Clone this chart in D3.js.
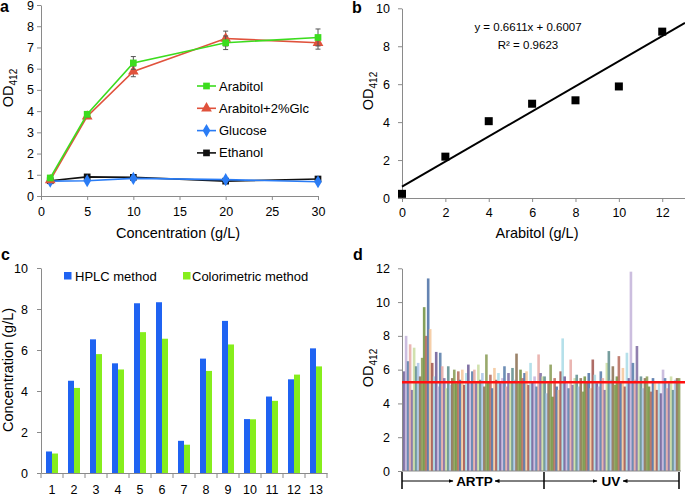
<!DOCTYPE html>
<html><head><meta charset="utf-8">
<script src="https://cdn.jsdelivr.net/npm/d3@7"></script>
<style>
html,body{margin:0;padding:0;background:#fff;}
svg text{font-family:"Liberation Sans",Arial,sans-serif;fill:#000;}
</style></head>
<body><svg id="c" width="685" height="497"></svg>
<script>
// ---------- Panel a data ----------
const aConc = [1, 5, 10, 20, 30];
const aArabitol = [0.85, 3.85, 6.27, 7.22, 7.47];
const aArabitolErr = [0.05, 0.12, 0.3, 0.32, 0.4];
const aArabitolGlc = [0.75, 3.75, 5.87, 7.42, 7.22];
const aArabitolGlcErr = [0.05, 0.1, 0.25, 0.35, 0.3];
const aGlucose = [0.7, 0.72, 0.83, 0.77, 0.67];
const aEthanol = [0.72, 0.9, 0.88, 0.7, 0.8];
const aLegend = ["Arabitol", "Arabitol+2%Glc", "Glucose", "Ethanol"];
const aXTicks = [0, 5, 10, 15, 20, 25, 30];
const aYTicks = [0, 1, 2, 3, 4, 5, 6, 7, 8, 9];

// ---------- Panel b data ----------
const bArabitol = [0, 2, 4, 6, 8, 10, 12];
const bOD = [0.22, 2.18, 4.05, 4.97, 5.15, 5.88, 8.77];
const bSlope = 0.6611, bIntercept = 0.6007;
const bEquation = "y = 0.6611x + 0.6007";
const bR2 = "R² = 0.9623";
const bXTicks = [0, 2, 4, 6, 8, 10, 12];
const bYTicks = [0, 2, 4, 6, 8, 10];

// ---------- Panel c data ----------
const cSamples = ["1","2","3","4","5","6","7","8","9","10","11","12","13"];
const cHPLC = [1.05, 4.5, 6.52, 5.35, 8.28, 8.33, 1.57, 5.58, 7.42, 2.63, 3.73, 4.57, 6.08];
const cColor = [0.95, 4.15, 5.8, 5.05, 6.87, 6.55, 1.38, 4.98, 6.27, 2.62, 3.52, 4.8, 5.2];
const cSeries = ["HPLC method", "Colorimetric method"];
const cYTicks = [0, 2, 4, 6, 8, 10];

// ---------- Panel d data ----------
const dARTP = [5.9,8.0,6.5,7.5,4.8,7.3,6.2,6.4,5.6,6.7,9.7,8.0,11.4,8.4,6.4,5.6,7.05,5.0,7.0,6.2,
  5.5,4.9,6.2,5.1,5.5,6.0,5.2,5.9,5.4,6.0,5.1,5.8,6.3,5.3,5.9,6.0,5.2,6.3,5.4,5.8,
  5.0,6.9,5.3,5.7,4.9,6.1,5.4,5.8,5.2,5.5,6.2,5.0,5.8,5.3,6.1,5.4,6.95,5.2,6.0,5.5,
  5.8,5.9,5.1,6.4,5.3,5.6,5.0,6.9,5.8,5.6];
const dUV = [5.6,4.6,5.2,6.3,4.4,5.5,5.0,4.8,5.9,7.85,5.6,5.2,4.9,6.6,5.1,5.5,5.7,5.0,5.5,4.7,
  5.6,5.3,5.8,4.9,6.6,5.7,5.2,5.0,5.9,5.5,4.8,6.4,7.1,5.4,6.2,5.1,5.6,6.8,5.3,6.1,
  5.0,7.0,5.5,11.8,6.4,5.4,7.4,5.2,5.6,4.9,5.5,5.6,5.0,4.7,5.5,5.2,4.8,5.3,4.6,6.0,
  5.5,4.9,5.2,5.6,4.8,5.4,5.5,5.5];
const dThreshold = 5.25;
const dGroups = ["ARTP", "UV"];
const dYTicks = [0, 2, 4, 6, 8, 10, 12];

const svg = d3.select("#c");
const AX = "#8a8a8a";

function styleAxis(g) {
  g.selectAll("path").attr("stroke", AX);
  g.selectAll("line").attr("stroke", AX);
  g.selectAll("text").style("font-size", "12.5px").attr("fill", "#000");
}
function odLabel(x, y) {
  const t = svg.append("text").attr("transform", `translate(${x},${y}) rotate(-90)`)
    .attr("text-anchor", "middle").style("font-size", "14.5px");
  t.append("tspan").text("OD");
  t.append("tspan").attr("dy", 4).style("font-size", "10px").text("412");
}
function panelLabel(t, x, y) {
  svg.append("text").attr("x", x).attr("y", y).text(t)
    .style("font-size", "16px").style("font-weight", "bold");
}

// ================= Panel a =================
{
  const x = d3.scaleLinear().domain([0, 30]).range([41, 318]);
  const y = d3.scaleLinear().domain([0, 9]).range([196, 5]);
  svg.append("g").attr("transform", "translate(0,196)")
    .call(d3.axisBottom(x).tickValues(aXTicks).tickSize(4).tickSizeOuter(0).tickPadding(7)).call(styleAxis);
  svg.append("g").attr("transform", "translate(41,0)")
    .call(d3.axisLeft(y).tickValues(aYTicks).tickSize(4).tickSizeOuter(0).tickPadding(3)).call(styleAxis);
  svg.append("text").attr("x", 178).attr("y", 238).attr("text-anchor", "middle")
    .style("font-size", "14.5px").text("Concentration (g/L)");
  odLabel(13, 88);
  panelLabel("a", 0, 12);

  const series = [
    {name: aLegend[0], v: aArabitol, err: aArabitolErr, color: "#3cdc1e", mk: "square"},
    {name: aLegend[1], v: aArabitolGlc, err: aArabitolGlcErr, color: "#e0523c", mk: "triangle"},
    {name: aLegend[2], v: aGlucose, err: null, color: "#2a7cf5", mk: "diamond"},
    {name: aLegend[3], v: aEthanol, err: null, color: "#111111", mk: "square"}
  ];
  const sym = {square: d3.symbolSquare, triangle: d3.symbolTriangle, diamond: d3.symbolDiamond};
  const size = {square: 45, triangle: 50, diamond: 50};
  const line = d3.line().x((d, i) => x(aConc[i])).y(d => y(d));
  [3, 2, 1, 0].forEach(si => {
    const s = series[si];
    svg.append("path").datum(s.v).attr("d", line).attr("fill", "none")
      .attr("stroke", s.color).attr("stroke-width", 1.6);
    if (s.err) {
      s.v.forEach((v, i) => {
        const cx = x(aConc[i]);
        const e = s.err[i];
        svg.append("line").attr("x1", cx).attr("x2", cx).attr("y1", y(v - e)).attr("y2", y(v + e)).attr("stroke", "#555").attr("stroke-width", 1);
        [v - e, v + e].forEach(w => svg.append("line").attr("x1", cx - 2.5).attr("x2", cx + 2.5).attr("y1", y(w)).attr("y2", y(w)).attr("stroke", "#555").attr("stroke-width", 1));
      });
    }
    svg.append("g").selectAll("path").data(s.v).join("path")
      .attr("transform", (d, i) => `translate(${x(aConc[i])},${y(d)})`)
      .attr("d", d3.symbol(sym[s.mk], size[s.mk])).attr("fill", s.color);
  });
  series.forEach((s, i) => {
    const ly = 86 + i * 22.3;
    svg.append("line").attr("x1", 197).attr("x2", 216).attr("y1", ly).attr("y2", ly).attr("stroke", s.color).attr("stroke-width", 1.6);
    svg.append("path").attr("transform", `translate(206.5,${ly})`).attr("d", d3.symbol(sym[s.mk], size[s.mk])).attr("fill", s.color);
    svg.append("text").attr("x", 219).attr("y", ly + 4.5).style("font-size", "13px").text(s.name);
  });
}

// ================= Panel b =================
{
  const x = d3.scaleLinear().domain([0, 13.05]).range([402, 685]);
  const y = d3.scaleLinear().domain([0, 10]).range([198, 8.3]);
  svg.append("g").attr("transform", "translate(0,198)")
    .call(d3.axisBottom(x).tickValues(bXTicks).tickSize(4).tickSizeOuter(0).tickPadding(6)).call(styleAxis);
  svg.append("g").attr("transform", "translate(402,0)")
    .call(d3.axisLeft(y).tickValues(bYTicks).tickSize(4).tickSizeOuter(0).tickPadding(8)).call(styleAxis);
  svg.append("text").attr("x", 537).attr("y", 238).attr("text-anchor", "middle")
    .style("font-size", "14.5px").text("Arabitol (g/L)");
  odLabel(373, 91);
  panelLabel("b", 352, 13);
  const xmax = 13.05;
  svg.append("line").attr("x1", x(0)).attr("y1", y(bIntercept)).attr("x2", x(xmax)).attr("y2", y(bSlope * xmax + bIntercept))
    .attr("stroke", "#000").attr("stroke-width", 2);
  svg.append("g").selectAll("rect").data(bOD).join("rect")
    .attr("x", (d, i) => x(bArabitol[i]) - 4).attr("y", d => y(d) - 4).attr("width", 8).attr("height", 8).attr("fill", "#000");
  svg.append("text").attr("x", 528).attr("y", 31).attr("text-anchor", "middle").style("font-size", "11.5px").text(bEquation);
  svg.append("text").attr("x", 528).attr("y", 49).attr("text-anchor", "middle").style("font-size", "11.5px").text(bR2);
}

// ================= Panel c =================
{
  const x = d3.scaleBand().domain(cSamples).range([41, 327]);
  const y = d3.scaleLinear().domain([0, 10]).range([473, 268]);
  const sub = d3.scaleBand().domain(cSeries).range([-6, 6]);
  const colors = ["#1f63f2", "#86ee1c"];
  svg.append("g").attr("transform", "translate(41,0)")
    .call(d3.axisLeft(y).tickValues(cYTicks).tickSize(4).tickSizeOuter(0).tickPadding(9)).call(styleAxis);
  const xa = svg.append("g").attr("transform", "translate(0,473)")
    .call(d3.axisBottom(x).tickSize(0).tickPadding(12)).call(styleAxis);
  xa.selectAll(".sep").data(d3.range(cSamples.length + 1)).join("line")
    .attr("x1", i => 41 + i * x.step()).attr("x2", i => 41 + i * x.step()).attr("y1", 0).attr("y2", 5).attr("stroke", AX);
  [cHPLC, cColor].forEach((vals, si) => {
    svg.append("g").selectAll("rect").data(vals).join("rect")
      .attr("x", (d, i) => x(cSamples[i]) + x.bandwidth() / 2 + sub(cSeries[si]))
      .attr("y", d => y(d)).attr("width", sub.bandwidth()).attr("height", d => 473 - y(d))
      .attr("fill", colors[si]);
  });
  svg.append("text").attr("transform", "translate(13,370) rotate(-90)").attr("text-anchor", "middle")
    .style("font-size", "14.5px").text("Concentration (g/L)");
  panelLabel("c", 1, 260);
  svg.append("rect").attr("x", 64).attr("y", 272).attr("width", 7.5).attr("height", 7.5).attr("fill", colors[0]);
  svg.append("text").attr("x", 75).attr("y", 281).style("font-size", "13px").text(cSeries[0]);
  svg.append("rect").attr("x", 183).attr("y", 272).attr("width", 7.5).attr("height", 7.5).attr("fill", colors[1]);
  svg.append("text").attr("x", 192).attr("y", 281).style("font-size", "13px").text(cSeries[1]);
}

// ================= Panel d =================
{
  const all = dARTP.concat(dUV);
  const idx = all.map((d, i) => i);
  const x = d3.scaleBand().domain(idx).range([403, 680]);
  const y = d3.scaleLinear().domain([0, 12]).range([471, 268.3]);
  const pal = ["#6b5b95", "#a9c4e8", "#a0524b", "#c9dca0", "#4a6fa5", "#e6a9a4",
               "#6f8f3e", "#c3b3d9", "#8a6d4f", "#a8dbe6", "#5e8c8c", "#f5c79a",
               "#7d6aa0", "#b56a5a", "#557aa8", "#879a52"];
  svg.append("g").selectAll("rect").data(all).join("rect")
    .attr("x", (d, i) => x(i) - 0.2).attr("y", d => y(d)).attr("width", x.bandwidth() + 0.6)
    .attr("height", d => 471 - y(d)).attr("fill", (d, i) => pal[(i * 7) % pal.length]).attr("fill-opacity", 0.85);
  svg.append("g").attr("transform", "translate(402,0)")
    .call(d3.axisLeft(y).tickValues(dYTicks).tickSize(4).tickSizeOuter(0).tickPadding(8)).call(styleAxis);
  svg.append("line").attr("x1", 402).attr("x2", 681).attr("y1", 471).attr("y2", 471).attr("stroke", AX);
  svg.append("line").attr("x1", 402).attr("x2", 685).attr("y1", y(dThreshold)).attr("y2", y(dThreshold))
    .attr("stroke", "#ff1010").attr("stroke-width", 2.5);
  odLabel(373, 368);
  panelLabel("d", 353, 260);
  const ay = 481;
  const defs = svg.append("defs");
  defs.append("marker").attr("id", "ah").attr("viewBox", "0 0 10 10").attr("refX", 9).attr("refY", 5)
    .attr("markerWidth", 5).attr("markerHeight", 5).attr("orient", "auto-start-reverse")
    .append("path").attr("d", "M0,1 L10,5 L0,9 Z").attr("fill", "#000");
  const xs = [402, 544, 679];
  xs.forEach(v => svg.append("line").attr("x1", v).attr("x2", v).attr("y1", 472).attr("y2", 489).attr("stroke", "#000").attr("stroke-width", 1.5));
  const segs = [[402, 453, 495, 544, 474.5], [544, 597, 623, 679, 611]];
  segs.forEach((s, gi) => {
    svg.append("line").attr("x1", s[0]).attr("x2", s[1]).attr("y1", ay).attr("y2", ay).attr("stroke", "#000").attr("stroke-width", 1).attr("marker-end", "url(#ah)");
    svg.append("line").attr("x1", s[3]).attr("x2", s[2]).attr("y1", ay).attr("y2", ay).attr("stroke", "#000").attr("stroke-width", 1).attr("marker-end", "url(#ah)");
    svg.append("text").attr("x", s[4]).attr("y", ay + 5).attr("text-anchor", "middle")
      .style("font-size", "13.5px").style("font-weight", "bold").text(dGroups[gi]);
  });
}
</script></body></html>
